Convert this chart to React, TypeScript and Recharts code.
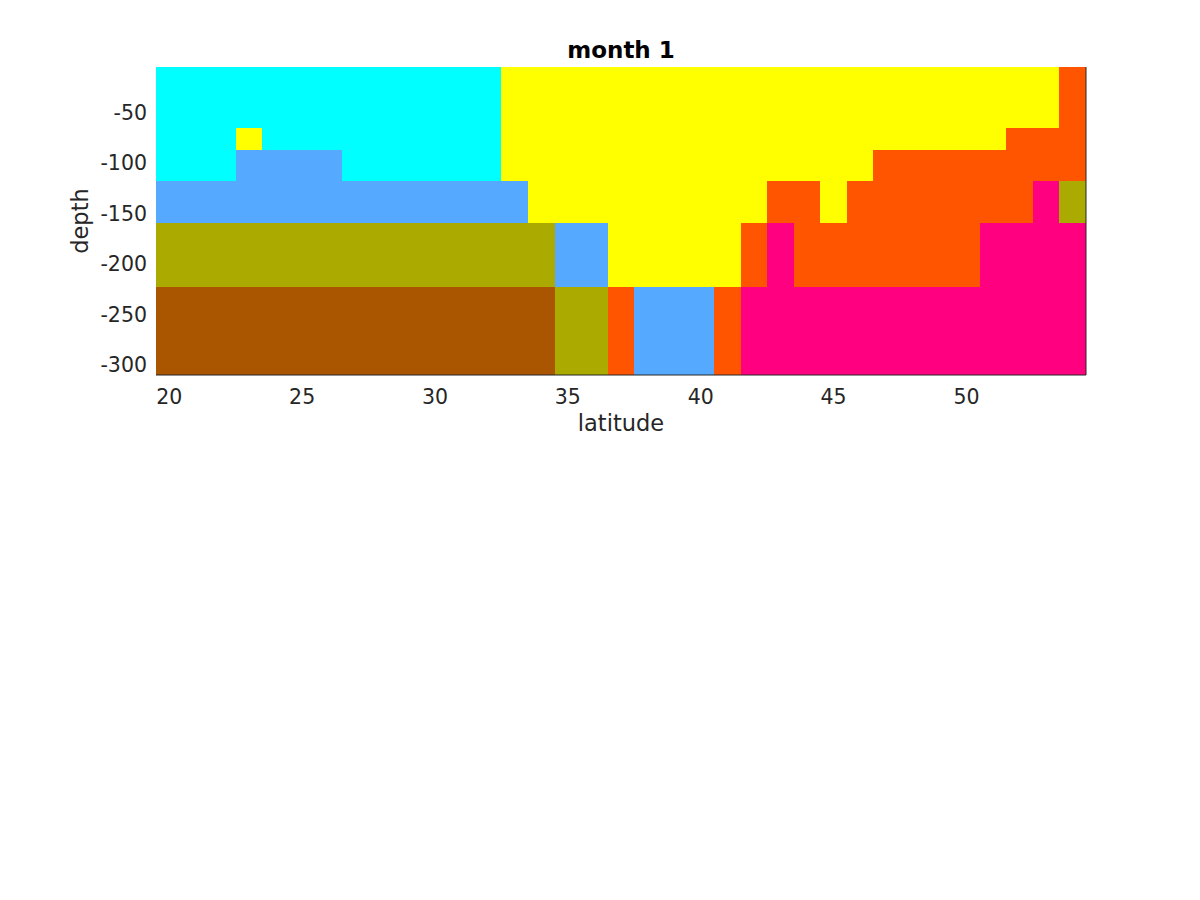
import React from 'react';
import { ComposedChart, XAxis, YAxis, ReferenceArea, ReferenceLine } from 'recharts';

// latitude of each column (cell centres)
const latitudes = [
  20, 21, 22, 23, 24, 25, 26, 27, 28, 29, 30, 31, 32, 33, 34, 35, 36, 37,
  38, 39, 40, 41, 42, 43, 44, 45, 46, 47, 48, 49, 50, 51, 52, 53, 54,
];

// depth edges of the 6 layers, top to bottom
const depthEdges = [-5, -65, -87, -118, -159.5, -222.5, -310];

// class code per cell, one string per layer (top to bottom), one char per latitude
const classRows = [
  'CCCCCCCCCCCCCYYYYYYYYYYYYYYYYYYYYYO',
  'CCCYCCCCCCCCCYYYYYYYYYYYYYYYYYYYOOO',
  'CCCBBBBCCCCCCYYYYYYYYYYYYYYOOOOOOOO',
  'BBBBBBBBBBBBBBYYYYYYYYYOOYOOOOOOOPL',
  'LLLLLLLLLLLLLLLBBYYYYYOPOOOOOOOPPPP',
  'RRRRRRRRRRRRRRRLLOBBBOPPPPPPPPPPPPP',
];

const classColors: Record<string, string> = {
  C: '#00ffff',
  B: '#55aaff',
  L: '#aaaa00',
  R: '#aa5500',
  Y: '#ffff00',
  O: '#ff5500',
  P: '#ff0080',
};

const xTicks = [20, 25, 30, 35, 40, 45, 50];
const yTicks = [-300, -250, -200, -150, -100, -50];

const chartData = latitudes.map((lat) => ({ lat }));

// merge consecutive equal cells of a layer into runs
const buildRuns = () => {
  const runs: { x1: number; x2: number; y1: number; y2: number; code: string }[] = [];
  classRows.forEach((row, r) => {
    let start = 0;
    for (let i = 1; i <= row.length; i++) {
      if (i === row.length || row[i] !== row[start]) {
        runs.push({
          x1: latitudes[start] - 0.5,
          x2: latitudes[i - 1] + 0.5,
          y1: depthEdges[r],
          y2: depthEdges[r + 1],
          code: row[start],
        });
        start = i;
      }
    }
  });
  return runs;
};

const CellRect = (props: any) => (
  <rect
    x={props.x}
    y={props.y}
    width={props.width}
    height={props.height}
    fill={props.fill}
    shapeRendering="crispEdges"
  />
);

const App = () => {
  const runs = buildRuns();
  const font = "'DejaVu Sans', sans-serif";
  return (
    <div style={{ position: 'absolute', left: 0, top: 0, width: 1200, height: 900, background: '#fff', fontFamily: font }}>
      <div
        style={{
          position: 'absolute',
          left: 421,
          width: 400,
          top: 36,
          textAlign: 'center',
          fontSize: 23,
          fontWeight: 'bold',
          color: '#000',
          lineHeight: '28px',
        }}
      >
        month 1
      </div>
      <ComposedChart
        width={1200}
        height={900}
        data={chartData}
        margin={{ top: 67, right: 114, bottom: 465, left: 0 }}
      >
        <XAxis
          dataKey="lat"
          type="number"
          domain={[19.5, 54.5]}
          ticks={xTicks}
          allowDataOverflow
          tickLine={false}
          tickMargin={8}
          height={60}
          stroke="#262626"
          tick={{ fontSize: 20.5, fill: '#262626', fontFamily: font }}
          label={{ value: 'latitude', position: 'insideBottom', offset: 4, fontSize: 22.5, fill: '#262626', fontFamily: font }}
        />
        <YAxis
          type="number"
          domain={[-310, -5]}
          ticks={yTicks}
          allowDataOverflow
          tickLine={false}
          axisLine={false}
          tickMargin={3}
          width={156}
          tick={{ fontSize: 20.5, fill: '#262626', fontFamily: font }}
          label={{ value: 'depth', angle: -90, position: 'center', dx: 2, fontSize: 22.5, fill: '#262626', fontFamily: font }}
        />
        {runs.map((run, i) => (
          <ReferenceArea
            key={i}
            x1={run.x1}
            x2={run.x2}
            y1={run.y1}
            y2={run.y2}
            fill={classColors[run.code]}
            fillOpacity={1}
            stroke="none"
            ifOverflow="visible"
            shape={CellRect}
          />
        ))}
        <ReferenceLine x={54.5} stroke="#262626" strokeWidth={1} ifOverflow="visible" />
      </ComposedChart>
    </div>
  );
};

export default App;
